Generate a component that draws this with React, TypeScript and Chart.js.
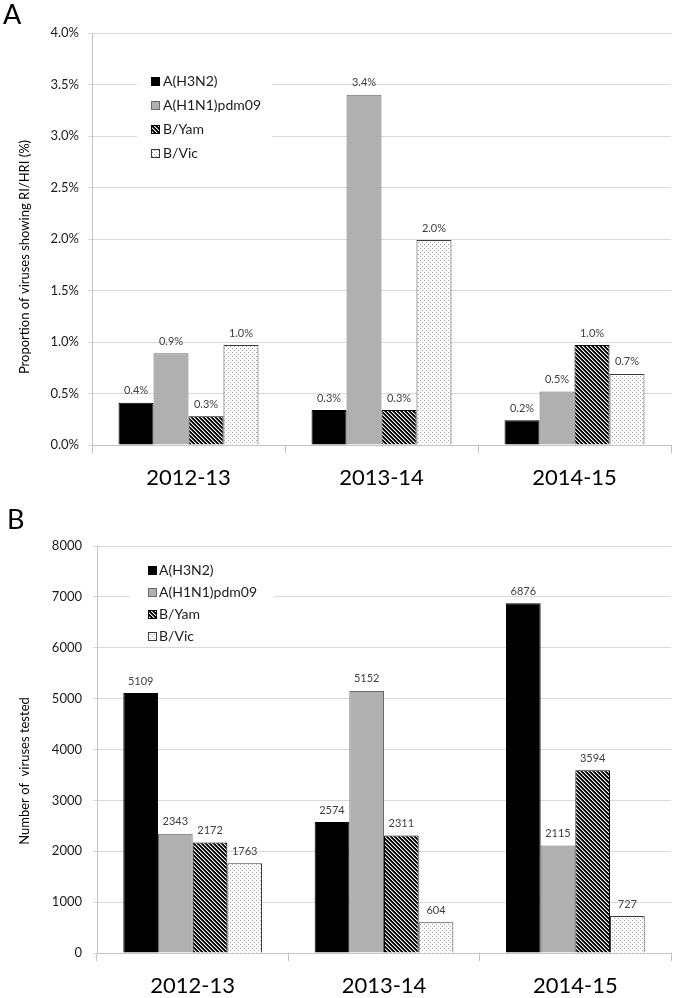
import React, { useEffect, useRef } from "react";
import { Chart, registerables } from "chart.js";

Chart.register(...registerables);

// ---------- data ----------
const seasons = ["2012-13", "2013-14", "2014-15"];
const seriesNames = ["A(H3N2)", "A(H1N1)pdm09", "B/Yam", "B/Vic"];

// Panel A: proportion of viruses showing RI/HRI (%)
const pctH3N2 = [0.41, 0.34, 0.24];
const pctH1N1 = [0.89, 3.4, 0.52];
const pctBYam = [0.28, 0.34, 0.97];
const pctBVic = [0.97, 1.99, 0.69];
const pctAxisMax = 4;
const pctAxisStep = 0.5;

// Panel B: number of viruses tested
const numH3N2 = [5109, 2574, 6876];
const numH1N1 = [2343, 5152, 2115];
const numBYam = [2172, 2311, 3594];
const numBVic = [1763, 604, 727];
const numAxisMax = 8000;
const numAxisStep = 1000;

const titleA = "Proportion of viruses showing RI/HRI (%)";
const titleB = "Number of  viruses tested";

const FONT = "Lato, 'Open Sans', sans-serif";

function makeHatch(): CanvasPattern {
  const c = document.createElement("canvas");
  c.width = 4;
  c.height = 4;
  const g = c.getContext("2d")!;
  g.fillStyle = "#000";
  g.fillRect(0, 0, 4, 4);
  for (let i = 0; i < 4; i++) {
    g.fillStyle = "#ffffff";
    g.fillRect(i, i, 1, 1);
    g.fillStyle = "#6a6a6a";
    g.fillRect((i + 1) % 4, i, 1, 1);
  }
  return g.createPattern(c, "repeat")!;
}

function makeDots(): CanvasPattern {
  const c = document.createElement("canvas");
  c.width = 4;
  c.height = 4;
  const g = c.getContext("2d")!;
  g.fillStyle = "#ffffff";
  g.fillRect(0, 0, 4, 4);
  g.fillStyle = "#a0a0a0";
  g.fillRect(0, 0, 1, 1);
  g.fillRect(2, 2, 1, 1);
  return g.createPattern(c, "repeat")!;
}

type LegendBox = {
  x: number;
  y: number;
  w: number;
  h: number;
  markerX: number;
  textX: number;
  firstY: number;
  step: number;
};

type PanelCfg = {
  series: number[][];
  max: number;
  step: number;
  tickFmt: (v: number) => string;
  labelFmt: (v: number) => string;
  title: string;
  titleX: number;
  titleCY: number;
  padTop: number;
  yWidth: number;
  xHeight: number;
  yTickPad: number;
  xTickPad: number;
  legend: LegendBox;
};

function makeChart(canvas: HTMLCanvasElement, cfg: PanelCfg, hatch: CanvasPattern, dots: CanvasPattern) {
  const fills: any[] = ["#000000", "#b0b0b0", hatch, dots];
  const borders = ["#000000", "#6a6a6a", "#000000", "#3a3a3a"];

  const valueLabels = {
    id: "valueLabels",
    afterDatasetsDraw(chart: any) {
      const ctx = chart.ctx;
      ctx.save();
      ctx.font = `11px ${FONT}`;
      ctx.fillStyle = "#404040";
      ctx.textAlign = "center";
      ctx.textBaseline = "middle";
      chart.data.datasets.forEach((ds: any, i: number) => {
        chart.getDatasetMeta(i).data.forEach((el: any, j: number) => {
          ctx.fillText(cfg.labelFmt(ds.data[j]), el.x, el.y - 12);
        });
      });
      ctx.restore();
    },
  };

  const yTitle = {
    id: "yTitle",
    afterDraw(chart: any) {
      const ctx = chart.ctx;
      ctx.save();
      ctx.translate(cfg.titleX, cfg.titleCY);
      ctx.rotate(-Math.PI / 2);
      ctx.font = `13px ${FONT}`;
      ctx.fillStyle = "#000";
      ctx.textAlign = "center";
      ctx.textBaseline = "middle";
      ctx.fillText(cfg.title, 0, 0);
      ctx.restore();
    },
  };

  const boxLegend = {
    id: "boxLegend",
    afterDraw(chart: any) {
      const ctx = chart.ctx;
      const b = cfg.legend;
      ctx.save();
      ctx.fillStyle = "#ffffff";
      ctx.fillRect(b.x, b.y, b.w, b.h);
      ctx.font = `14px ${FONT}`;
      ctx.textAlign = "left";
      ctx.textBaseline = "middle";
      chart.data.datasets.forEach((ds: any, i: number) => {
        const cy = b.firstY + i * b.step;
        const s = 9;
        const my = Math.round(cy - s / 2);
        ctx.fillStyle = ds.backgroundColor;
        ctx.fillRect(b.markerX, my, s, s);
        ctx.strokeStyle = ds.borderColor;
        ctx.lineWidth = 1;
        ctx.strokeRect(b.markerX + 0.5, my + 0.5, s - 1, s - 1);
        ctx.fillStyle = "#1a1a1a";
        ctx.fillText(ds.label, b.textX, cy);
      });
      ctx.restore();
    },
  };

  return new Chart(canvas, {
    type: "bar",
    data: {
      labels: seasons,
      datasets: cfg.series.map((vals, i) => ({
        label: seriesNames[i],
        data: vals,
        backgroundColor: fills[i],
        borderColor: borders[i],
        borderWidth: 1,
        barPercentage: 1,
        categoryPercentage: 0.725,
      })),
    },
    options: {
      animation: false,
      responsive: false,
      devicePixelRatio: 1,
      layout: { padding: { top: cfg.padTop, right: 4, left: 0, bottom: 0 } },
      plugins: {
        legend: { display: false },
        tooltip: { enabled: false },
      },
      scales: {
        x: {
          grid: {
            display: true,
            drawOnChartArea: false,
            drawTicks: true,
            tickLength: 8,
            offset: true,
            color: "#c4c4c4",
          },
          border: { display: true, color: "#c4c4c4" },
          ticks: {
            font: { family: FONT, size: 22 },
            color: "#000",
            padding: cfg.xTickPad,
          },
          afterFit: (s: any) => {
            s.height = cfg.xHeight;
          },
        },
        y: {
          min: 0,
          max: cfg.max,
          ticks: {
            stepSize: cfg.step,
            callback: (v: any) => cfg.tickFmt(Number(v)),
            font: { family: FONT, size: 13 },
            color: "#1a1a1a",
            padding: cfg.yTickPad,
          },
          grid: { color: "#d9d9d9", tickLength: 4, drawTicks: true },
          border: { display: true, color: "#c4c4c4" },
          afterFit: (s: any) => {
            s.width = cfg.yWidth;
          },
        },
      },
    },
    plugins: [valueLabels, yTitle, boxLegend],
  } as any);
}

export default function App() {
  const refA = useRef<HTMLCanvasElement>(null);
  const refB = useRef<HTMLCanvasElement>(null);

  useEffect(() => {
    const hatch = makeHatch();
    const dots = makeDots();
    const a = makeChart(
      refA.current!,
      {
        series: [pctH3N2, pctH1N1, pctBYam, pctBVic],
        max: pctAxisMax,
        step: pctAxisStep,
        tickFmt: (v) => v.toFixed(1) + "%",
        labelFmt: (v) => v.toFixed(1) + "%",
        title: titleA,
        titleX: 25,
        titleCY: 257,
        padTop: 33,
        yWidth: 92,
        xHeight: 55,
        yTickPad: 9,
        xTickPad: 12,
        legend: { x: 137, y: 68, w: 135, h: 97, markerX: 151, textX: 163, firstY: 81, step: 24 },
      },
      hatch,
      dots
    );
    const b = makeChart(
      refB.current!,
      {
        series: [numH3N2, numH1N1, numBYam, numBVic],
        max: numAxisMax,
        step: numAxisStep,
        tickFmt: (v) => String(v),
        labelFmt: (v) => String(v),
        title: titleB,
        titleX: 25,
        titleCY: 271,
        padTop: 46,
        yWidth: 97,
        xHeight: 45,
        yTickPad: 11,
        xTickPad: 12,
        legend: { x: 130, y: 52, w: 144, h: 93, markerX: 148, textX: 159, firstY: 70, step: 22.3 },
      },
      hatch,
      dots
    );
    return () => {
      a.destroy();
      b.destroy();
    };
  }, []);

  return (
    <div
      style={{
        position: "absolute",
        left: 0,
        top: 0,
        width: 675,
        height: 998,
        background: "#fff",
        fontFamily: FONT,
        overflow: "hidden",
      }}
    >
      <canvas
        ref={refA}
        width={675}
        height={500}
        style={{ position: "absolute", left: 0, top: 0, width: 675, height: 500 }}
      />
      <canvas
        ref={refB}
        width={675}
        height={498}
        style={{ position: "absolute", left: 0, top: 500, width: 675, height: 498 }}
      />
      <div style={{ position: "absolute", left: 3, top: 0, fontSize: 27, lineHeight: "27px", color: "#000" }}>A</div>
      <div style={{ position: "absolute", left: 7, top: 505, fontSize: 27, lineHeight: "27px", color: "#000" }}>B</div>
    </div>
  );
}
